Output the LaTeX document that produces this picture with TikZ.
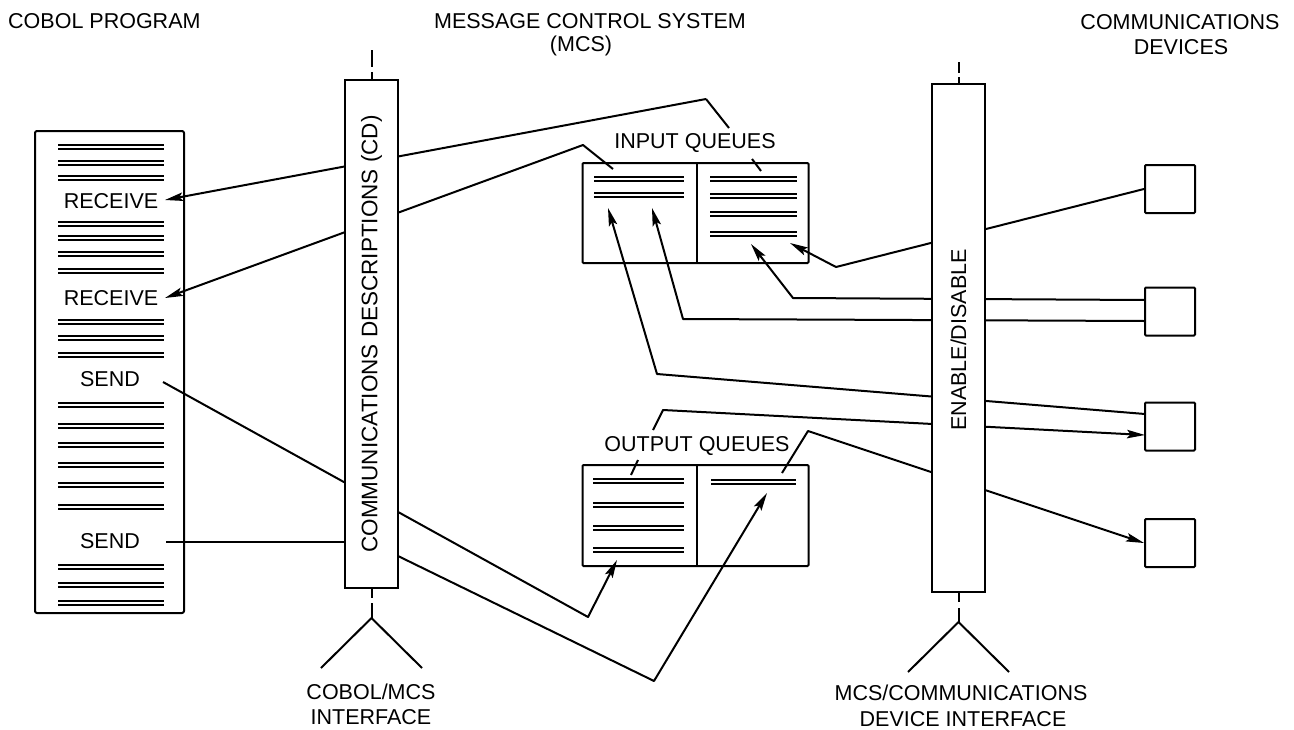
\documentclass[tikz,border=0pt]{standalone}
\usepackage{fontspec}
\setmainfont{Liberation Sans}
\usetikzlibrary{arrows.meta}
\begin{document}
\begin{tikzpicture}[x=1pt,y=-1pt,
  ln/.style={line width=2pt, line join=round},
  arr/.style={ln, -{Stealth[length=18pt,width=8.5pt,inset=3.5pt]}},
  lbl/.style={font=\fontsize{21.5}{25}\selectfont, inner sep=0pt},
  bar/.style={draw, line width=2pt, fill=white},
  dbl/.style={line width=1.6pt},
  dev/.style={draw, line width=2pt, minimum width=50pt, minimum height=48pt, inner sep=0pt, rounded corners=1pt},
]
\useasboundingbox (0,0) rectangle (1294,729);

% ---------- titles
\node[lbl, anchor=west] (tprog) at (8,21) {COBOL PROGRAM};
\node[lbl] (tmcs1) at (590,21) {MESSAGE CONTROL SYSTEM};
\node[lbl] (tmcs2) at (581,46) {(MCS)};
\node[lbl] (tdev1) at (1180,22) {COMMUNICATIONS};
\node[lbl] (tdev2) at (1181,47) {DEVICES};

% ---------- COBOL program box
\draw[ln, rounded corners=2pt] (35,131) rectangle (184,613);
\foreach \y in {147,163,178, 224,238,254,271, 322,338,355, 405,426,445,465,485,507, 567,585,603}
  \draw[dbl] (58,\y-2) -- (164,\y-2) (58,\y+2) -- (164,\y+2);
\node[lbl] (rec1) at (111,201) {RECEIVE};
\node[lbl] (rec2) at (111,298) {RECEIVE};
\node[lbl] (send1) at (110,379) {SEND};
\node[lbl] (send2) at (110,541) {SEND};

% ---------- queues
\node[draw, line width=2pt, minimum width=226pt, minimum height=100pt, inner sep=0pt, rounded corners=1pt] (inq) at (695.5,213) {};
\draw[ln] (697,163) -- (697,263);
\node[draw, line width=2pt, minimum width=226pt, minimum height=101pt, inner sep=0pt, rounded corners=1pt] (outq) at (695.5,515.5) {};
\draw[ln] (697,465) -- (697,566);
\foreach \y in {179,195}
  \draw[dbl] (594,\y-2) -- (684,\y-2) (594,\y+2) -- (684,\y+2);
\foreach \y in {179,196,214,234}
  \draw[dbl] (710,\y-2) -- (797,\y-2) (710,\y+2) -- (797,\y+2);
\foreach \y in {481,505,528,550}
  \draw[dbl] (593,\y-2) -- (684,\y-2) (593,\y+2) -- (684,\y+2);
\foreach \y in {482}
  \draw[dbl] (711,\y-2) -- (796,\y-2) (711,\y+2) -- (796,\y+2);
\node[lbl] (tin) at (695,143) {INPUT QUEUES};
\node[lbl] (tout) at (697,446) {OUTPUT QUEUES};

% ---------- devices
\node[dev] (d1) at (1170,189) {};
\node[dev] (d2) at (1170,311.5) {};
\node[dev] (d3) at (1170,426.5) {};
\node[dev] (d4) at (1170,543) {};

% ---------- named points
\coordinate (p1) at (706,99);
\coordinate (p1a) at (729,128);
\coordinate (p1b) at (752,159);
\coordinate (p1c) at (761,171);
\coordinate (p2) at (583,145);
\coordinate (p2a) at (613,169);
\coordinate (r1) at (165,200);
\coordinate (r2) at (165,298);
\coordinate (s1) at (163,382);
\coordinate (s1a) at (588,617);
\coordinate (s1t) at (617,560);
\coordinate (s2) at (166,542);
\coordinate (s2a) at (345,542);
\coordinate (s2b) at (398,556);
\coordinate (s2c) at (654,681);
\coordinate (s2t) at (767,493);

\coordinate (ak) at (836,267);
\coordinate (at) at (790,243);
\coordinate (b1s) at (1145,300);
\coordinate (b1k) at (793,298);
\coordinate (b1t) at (751,244);
\coordinate (b2s) at (1145,321);
\coordinate (b2k) at (683,319);
\coordinate (b2t) at (652,208);
\coordinate (c1s) at (1145,414);
\coordinate (c1k) at (657,374);
\coordinate (c1t) at (608,208);
\coordinate (c2k) at (663,410);
\coordinate (c2a) at (653,430);
\coordinate (c2b) at (638,460);
\coordinate (c2c) at (631,475);
\coordinate (c2t) at (1145,435);
\coordinate (dk) at (808,431);
\coordinate (dp) at (782,473);

% ---------- connectors (drawn before the bars, which hide them)
\draw[arr] (p1) -- (r1);
\draw[ln] (p1) -- (p1a);
\draw[ln] (p1b) -- (p1c);
\draw[arr] (p2a) -- (p2) -- (r2);
\draw[arr] (s1) -- (s1a) -- (s1t);
\draw[ln] (s2) -- (s2a);
\draw[arr] (s2b) -- (s2c) -- (s2t);

\draw[arr] (d1.west) -- (ak) -- (at);
\draw[arr] (b1s) -- (b1k) -- (b1t);
\draw[arr] (b2s) -- (b2k) -- (b2t);
\draw[arr] (c1s) -- (c1k) -- (c1t);
\draw[arr] (c2a) -- (c2k) -- (c2t);
\draw[ln] (c2b) -- (c2c);
\draw[arr] (dp) -- (dk) -- (d4.west);

% ---------- CD bar
\node[bar, minimum width=53pt, minimum height=508pt, inner sep=0pt] (cd) at (371.5,334) {};
\node[lbl, rotate=90, font=\fontsize{22.5}{26}\selectfont] (cdt) at (371.5,334) {COMMUNICATIONS DESCRIPTIONS (CD)};
\draw[ln] (371.5,50) -- (371.5,67);
\draw[ln] (371.5,72) -- (cd.north);
\draw[ln] (cd.south) -- (371.5,598);
\coordinate (cdf) at (371.5,618);
\draw[ln] (371.5,603) -- (cdf);
\draw[ln] (321,668) -- (cdf) -- (422,668);
\node[lbl] (cdi1) at (371,692) {COBOL/MCS};
\node[lbl] (cdi2) at (371,717) {INTERFACE};

% ---------- ENABLE/DISABLE bar
\node[bar, minimum width=53pt, minimum height=508pt, inner sep=0pt] (ed) at (958.5,338) {};
\node[lbl, rotate=90] (edt) at (958.5,340) {ENABLE/DISABLE};
\draw[ln] (958.5,62) -- (958.5,73);
\draw[ln] (958.5,77) -- (ed.north);
\draw[ln] (ed.south) -- (958.5,602);
\coordinate (edf) at (958.5,622);
\draw[ln] (958.5,608) -- (edf);
\draw[ln] (908,672) -- (edf) -- (1009,672);
\node[lbl] (edi1) at (961,693) {MCS/COMMUNICATIONS};
\node[lbl] (edi2) at (963,719) {DEVICE INTERFACE};
\end{tikzpicture}
\end{document}
